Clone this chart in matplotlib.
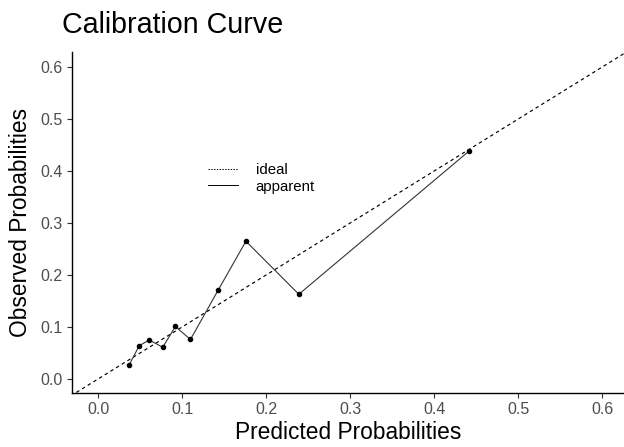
import matplotlib.pyplot as plt
from matplotlib.lines import Line2D

# Calibration data.
predicted = [0.037, 0.049, 0.061, 0.077, 0.092, 0.110, 0.143, 0.176, 0.239, 0.442]
observed = [0.027, 0.064, 0.075, 0.061, 0.101, 0.076, 0.171, 0.265, 0.163, 0.439]
ticks = [0.0, 0.1, 0.2, 0.3, 0.4, 0.5, 0.6]
tick_labels = ['0.0', '0.1', '0.2', '0.3', '0.4', '0.5', '0.6']

plt.rcParams['font.family'] = ['Liberation Sans', 'DejaVu Sans']
plt.rcParams['lines.scale_dashes'] = False

fig = plt.figure(figsize=(6.24, 4.47), dpi=100)
ax = fig.add_axes([72 / 624, (447 - 392.5) / 447, (624 - 72) / 624, (392.5 - 52) / 447])

# Ideal diagonal line.
ax.plot([-0.1, 1.0], [-0.1, 1.0], color='black', lw=0.85, linestyle=(0, (2.5, 2.3)))
# Apparent calibration curve.
ax.plot(predicted, observed, color='#333333', lw=0.8)
ax.scatter(predicted, observed, s=9, color='black', zorder=3)

ax.set_xlim(-0.031, 0.626)
ax.set_ylim(-0.026, 0.629)
ax.set_xticks(ticks)
ax.set_xticklabels(tick_labels)
ax.set_yticks(ticks)
ax.set_yticklabels(tick_labels)

ax.spines['top'].set_visible(False)
ax.spines['right'].set_visible(False)
ax.spines['left'].set_linewidth(1.0)
ax.spines['bottom'].set_linewidth(1.0)
ax.tick_params(axis='both', length=3.5, width=0.8, color='#333333',
               labelcolor='#4D4D4D', labelsize=11.5, pad=3)

ax.set_xlabel('Predicted Probabilities', fontsize=16.4, color='black', labelpad=3)
ax.set_ylabel('Observed Probabilities', fontsize=16.4, color='black', labelpad=6)
fig.text(62 / 624, 1 - 33 / 447, 'Calibration Curve', fontsize=20.6,
         ha='left', va='baseline')

# Legend with proxy handles.
handles = [Line2D([0], [0], color='black', lw=0.7, linestyle=(0, (1, 1))),
           Line2D([0], [0], color='black', lw=0.7)]
ax.legend(handles, ['ideal', 'apparent'], loc='upper left',
          bbox_to_anchor=(0.232, 0.695), frameon=False, fontsize=10.8,
          handlelength=2.0, handletextpad=1.2, labelspacing=0.15,
          borderpad=0)

fig.savefig('out.png', dpi=100)
